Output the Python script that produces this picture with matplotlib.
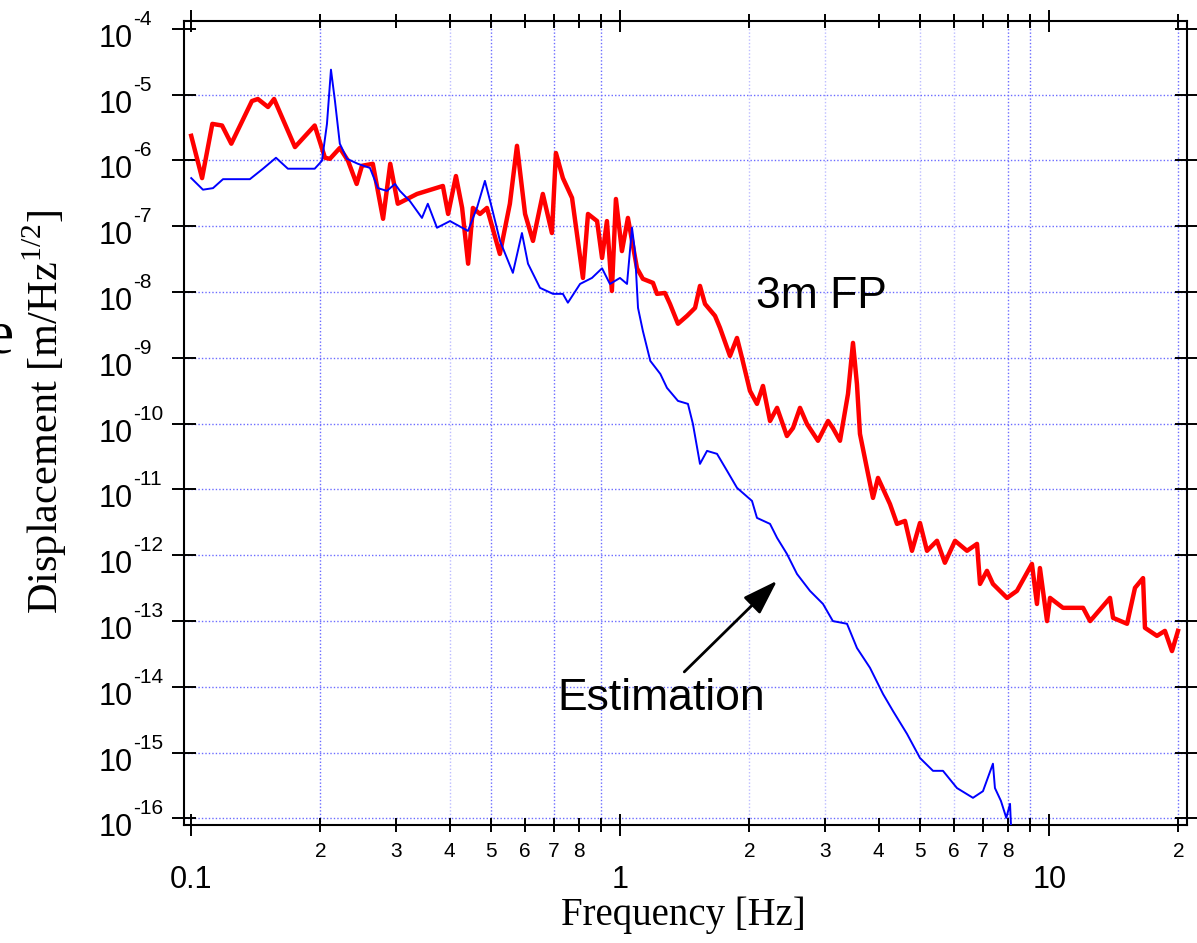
import numpy as np
import matplotlib
matplotlib.use('Agg')
import matplotlib.pyplot as plt
from matplotlib.ticker import NullLocator, NullFormatter

plt.rcParams['font.family'] = ['Liberation Sans', 'DejaVu Sans']
plt.rcParams['mathtext.fontset'] = 'custom'
plt.rcParams['mathtext.rm'] = 'Liberation Serif'

# 3m FP measured displacement (red)
fp_freq = [0.100, 0.106, 0.112, 0.118, 0.124, 0.1385, 0.143, 0.151, 0.156, 0.1745,
           0.194, 0.205, 0.2105, 0.222, 0.232, 0.243, 0.250, 0.265, 0.280, 0.291,
           0.303, 0.336, 0.386, 0.397, 0.414, 0.428, 0.442, 0.4535, 0.471, 0.489,
           0.524, 0.553, 0.5745, 0.600, 0.626, 0.660, 0.693, 0.708, 0.735, 0.772,
           0.8185, 0.841, 0.883, 0.907, 0.931, 0.956, 0.977, 1.009, 1.042, 1.094,
           1.129, 1.192, 1.218, 1.271, 1.306, 1.363, 1.431, 1.494, 1.534, 1.576,
           1.663, 1.708, 1.802, 1.871, 1.922, 2.006, 2.083, 2.151, 2.234, 2.32,
           2.446, 2.527, 2.624, 2.724, 2.89, 3.05, 3.13, 3.252, 3.395, 3.487,
           3.562, 3.62, 3.78, 3.882, 3.988, 4.253, 4.416, 4.61, 4.786, 4.996,
           5.187, 5.473, 5.71, 6.03, 6.43, 6.785, 6.895, 7.157, 7.39, 7.97,
           8.407, 9.11, 9.36, 9.51, 9.88, 10.04, 10.76, 11.99, 12.45, 13.85,
           14.08, 15.18, 15.84, 16.54, 16.71, 17.82, 18.6, 19.32, 19.95]
fp_disp = [2.37e-6, 5.4e-7, 3.6e-6, 3.4e-6, 1.8e-6, 8.0e-6, 8.6e-6, 6.5e-6, 8.6e-6, 1.6e-6,
           3.4e-6, 1.1e-6, 1.06e-6, 1.55e-6, 9.9e-7, 4.4e-7, 8.3e-7, 8.9e-7, 1.3e-7, 8.9e-7,
           2.2e-7, 3.1e-7, 4.1e-7, 1.54e-7, 5.8e-7, 1.9e-7, 2.7e-8, 1.9e-7, 1.54e-7, 1.9e-7,
           3.8e-8, 2.2e-7, 1.67e-6, 1.54e-7, 6.0e-8, 3.1e-7, 7.9e-8, 1.3e-6, 5.4e-7, 2.7e-7,
           1.64e-8, 1.54e-7, 1.2e-7, 3.3e-8, 1.2e-7, 1.04e-8, 2.6e-7, 4.2e-8, 1.34e-7, 2.3e-8,
           1.59e-8, 1.38e-8, 9.4e-9, 9.7e-9, 6.6e-9, 3.3e-9, 4.35e-9, 5.75e-9, 1.24e-8, 6.6e-9,
           4.35e-9, 2.86e-9, 1.07e-9, 2.01e-9, 1.0e-9, 3.15e-10, 2.0e-10, 3.75e-10, 1.1e-10, 1.74e-10,
           6.5e-11, 8.6e-11, 1.74e-10, 9.9e-11, 5.5e-11, 1.1e-10, 8.6e-11, 5.5e-11, 2.84e-10, 1.69e-9,
           4.0e-10, 7.0e-11, 1.73e-11, 7.45e-12, 1.5e-11, 6.0e-12, 3.0e-12, 3.33e-12, 1.17e-12, 3.1e-12,
           1.17e-12, 1.66e-12, 7.7e-13, 1.66e-12, 1.17e-12, 1.49e-12, 3.67e-13, 5.8e-13, 3.67e-13, 2.25e-13,
           2.88e-13, 7.4e-13, 1.82e-13, 6.4e-13, 1.0e-13, 2.25e-13, 1.59e-13, 1.59e-13, 1.0e-13, 2.25e-13,
           1.12e-13, 9.1e-14, 3.2e-13, 4.5e-13, 7.9e-14, 5.96e-14, 7.1e-14, 3.5e-14, 7.1e-14]

# estimation (blue)
est_freq = [0.100, 0.1065, 0.1124, 0.1186, 0.137, 0.147, 0.1576, 0.168, 0.194, 0.2017,
            0.2072, 0.2117, 0.2163, 0.222, 0.2307, 0.2447, 0.261, 0.2724, 0.2859, 0.2985,
            0.3065, 0.3236, 0.345, 0.356, 0.374, 0.401, 0.4416, 0.4634, 0.4837, 0.5021,
            0.5244, 0.562, 0.590, 0.6095, 0.650, 0.697, 0.735, 0.755, 0.806, 0.859,
            0.907, 0.946, 0.9985, 1.037, 1.065, 1.082, 1.10, 1.129, 1.175, 1.24,
            1.285, 1.363, 1.438, 1.477, 1.534, 1.593, 1.681, 1.774, 1.871, 2.028,
            2.083, 2.234, 2.32, 2.446, 2.582, 2.768, 2.969, 3.13, 3.377, 3.562,
            3.82, 4.097, 4.322, 4.66, 4.996, 5.357, 5.652, 6.093, 6.639, 7.005,
            7.39, 7.47, 7.714, 7.94, 8.10, 8.14]
est_disp = [5.4e-7, 3.6e-7, 3.8e-7, 5.2e-7, 5.2e-7, 7.5e-7, 1.1e-6, 7.5e-7, 7.5e-7, 9.9e-7,
            3.6e-6, 2.4e-5, 8.0e-6, 1.8e-6, 1.06e-6, 8.9e-7, 7.7e-7, 3.8e-7, 3.45e-7, 4.4e-7,
            3.45e-7, 2.4e-7, 1.34e-7, 2.2e-7, 9.5e-8, 1.2e-7, 8.5e-8, 1.9e-7, 4.9e-7, 1.9e-7,
            6.0e-8, 1.96e-8, 7.9e-8, 2.7e-8, 1.16e-8, 9.4e-9, 9.4e-9, 6.9e-9, 1.33e-8, 1.64e-8,
            2.3e-8, 1.33e-8, 1.64e-8, 1.33e-8, 9.5e-8, 4.2e-8, 5.75e-9, 2.57e-9, 9.0e-10, 5.7e-10,
            3.5e-10, 2.22e-10, 2.0e-10, 9.9e-11, 2.45e-11, 3.86e-11, 3.48e-11, 1.92e-11, 1.06e-11, 6.7e-12,
            3.7e-12, 3.0e-12, 1.84e-12, 1.05e-12, 5.2e-13, 2.88e-13, 1.82e-13, 1.0e-13, 9.1e-14, 3.9e-14,
            1.95e-14, 7.8e-15, 4.3e-15, 1.93e-15, 8.3e-16, 5.3e-16, 5.3e-16, 2.9e-16, 2.06e-16, 2.6e-16,
            6.8e-16, 2.9e-16, 1.85e-16, 1.02e-16, 1.67e-16, 8.0e-17]

decade_exps = list(range(-16, -3))
major_freqs = [0.1, 1, 10]
major_labels = ['0.1', '1', '10']
minor_freqs = [0.2, 0.3, 0.4, 0.5, 0.6, 0.7, 0.8, 0.9, 2, 3, 4, 5, 6, 7, 8, 9, 20]
minor_labels = ['2', '3', '4', '5', '6', '7', '8', '', '2', '3', '4', '5', '6', '7', '8', '', '2']

W, H = 1197, 943
fig = plt.figure(figsize=(W / 100, H / 100), dpi=100)
ax = fig.add_axes([184 / W, 1 - 825 / H, (1187 - 184) / W, (825 - 21) / H])
ax.set_xscale('log')
ax.set_yscale('log')
ax.set_xlim(0.0962, 20.94)
ax.set_ylim(7.96e-17, 1.318e-4)

# dotted blue grid (only some lines show in the original)
gc = '#6b6bff'
for e in decade_exps[:-1]:
    ax.axhline(10.0 ** e, color=gc, lw=1.0, ls=(0, (1, 1.5)), zorder=1)
for f in [0.2, 0.5, 0.7, 0.9, 8, 9, 20]:
    ax.axvline(f, color=gc, lw=1.0, ls=(0, (1, 1.5)), zorder=1)
for f in [0.4, 2, 3, 5, 6]:
    ax.axvline(f, color=gc, lw=1.0, ls=(0, (1, 1.5)), alpha=0.45, zorder=1)

ax.plot(fp_freq, fp_disp, color='#ff0000', lw=3.2, zorder=3)
ax.plot(est_freq, est_disp, color='#0000ff', lw=1.4, zorder=4)

ax.set_xticks(major_freqs)
ax.set_xticks(minor_freqs, minor=True)
ax.set_yticks([10.0 ** e for e in decade_exps])
ax.yaxis.set_minor_locator(NullLocator())
ax.xaxis.set_major_formatter(NullFormatter())
ax.xaxis.set_minor_formatter(NullFormatter())
ax.yaxis.set_major_formatter(NullFormatter())
ax.tick_params(which='both', direction='inout', top=True, right=True, width=1.4, color='k')
ax.tick_params(axis='x', which='major', length=16.5)
ax.tick_params(axis='x', which='minor', length=10)
ax.tick_params(axis='y', which='major', length=17)
for s in ax.spines.values():
    s.set_linewidth(1.5)

# tick labels
for f, lab in zip(major_freqs, major_labels):
    ax.annotate(lab, xy=(f, 0), xycoords=('data', 'axes fraction'), xytext=(0, -63),
                textcoords='offset pixels', ha='center', va='baseline', fontsize=22)
for f, lab in zip(minor_freqs, minor_labels):
    ax.annotate(lab, xy=(f, 0), xycoords=('data', 'axes fraction'), xytext=(0, -32),
                textcoords='offset pixels', ha='center', va='baseline', fontsize=15)
for e in decade_exps:
    ax.annotate('10', xy=(0, 10.0 ** e), xycoords=('axes fraction', 'data'), xytext=(-51, -18),
                textcoords='offset pixels', ha='right', va='baseline', fontsize=22)
    ax.annotate(str(e), xy=(0, 10.0 ** e), xycoords=('axes fraction', 'data'), xytext=(-51, 4),
                textcoords='offset pixels', ha='left', va='baseline', fontsize=15)

ax.text(2.95, 8.7e-9, '3m FP', fontsize=32, ha='center', va='center')
ax.text(1.243, 6.6e-15, 'Estimation', fontsize=32, ha='center', va='center')
ax.annotate('', xy=(2.32, 4.1e-13), xytext=(1.41, 1.69e-14),
            arrowprops=dict(arrowstyle='-|>,head_length=0.6,head_width=0.2', color='k',
                            lw=2, mutation_scale=36, shrinkA=0, shrinkB=0))

fig.text(683 / W, 1 - 925 / H, 'Frequency [Hz]', family='Liberation Serif', fontsize=28,
         ha='center', va='baseline')
fig.text(45 / W, 1 - 412 / H, r'Displacement [m/Hz$^{1/2}$]', family='Liberation Serif',
         fontsize=30.5, rotation=90, ha='center', va='center')
fig.text(14 / W, 1 - 338 / H, 'e', family='Liberation Serif', fontsize=44, ha='right', va='center')

fig.savefig('out.png', dpi=100)
